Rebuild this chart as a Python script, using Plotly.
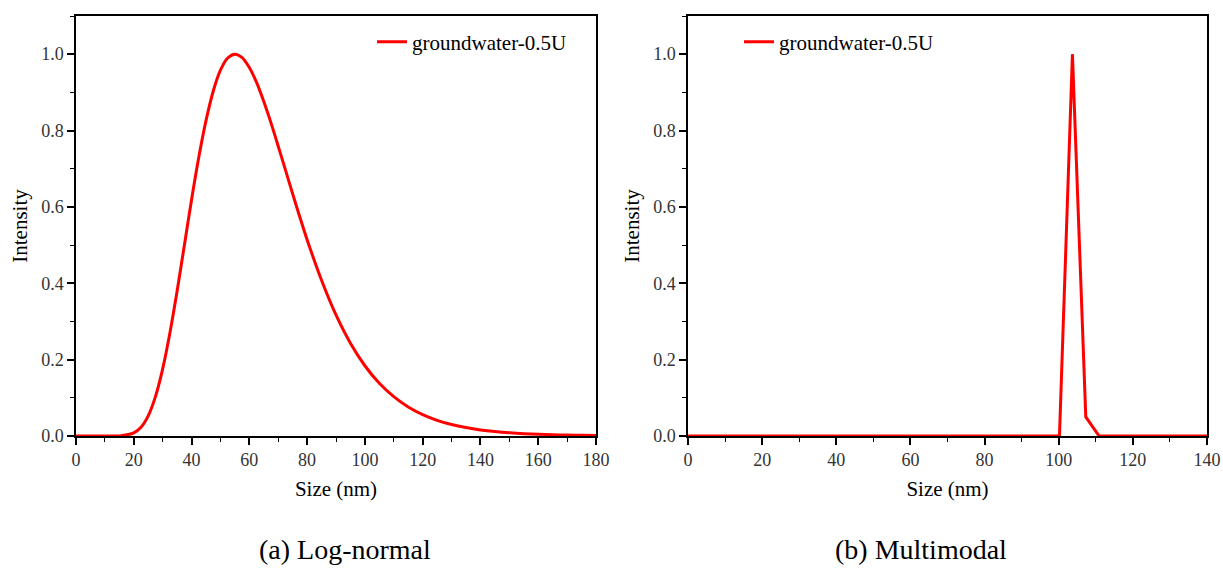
import plotly.graph_objects as go

# ---- data ----
size_a = [0, 5, 10, 15, 20, 22.5, 25, 27.5, 30, 32.5, 35, 37.5, 40, 42.5, 45, 47.5,
          50, 52.5, 55, 57.5, 60, 62.5, 65, 67.5, 70, 72.5, 75, 77.5, 80, 85, 90,
          95, 100, 105, 110, 115, 120, 125, 130, 135, 140, 145, 150, 155, 160, 165,
          170, 175, 180]
intensity_a = [0.0, 0.0, 0.0, 0.0003, 0.0079, 0.0228, 0.0527, 0.103, 0.176, 0.270,
               0.380, 0.499, 0.619, 0.730, 0.826, 0.903, 0.958, 0.990, 1.0, 0.991,
               0.965, 0.926, 0.876, 0.820, 0.759, 0.697, 0.634, 0.573, 0.514, 0.408,
               0.317, 0.243, 0.184, 0.138, 0.103, 0.076, 0.056, 0.041, 0.030, 0.022,
               0.016, 0.0117, 0.0085, 0.0062, 0.0045, 0.0033, 0.0024, 0.0018, 0.0013]

size_b = [0, 20, 40, 60, 80, 100.2, 103.7, 107.3, 110.9, 120, 140]
intensity_b = [0, 0, 0, 0, 0, 0, 1.0, 0.05, 0, 0, 0]

series_name = "groundwater-0.5U"
captions = ["(a) Log-normal", "(b) Multimodal"]
y_ticks = [0.0, 0.2, 0.4, 0.6, 0.8, 1.0]

FONT = "Liberation Serif"
W, H = 1223, 569
ML, MR, MT, MB = 76, 16, 16, 133
PW = W - ML - MR
PH = H - MT - MB

def px(x):
    return (x - ML) / PW

def py(y):
    return (H - MB - y) / PH

fig = go.Figure()
fig.add_trace(go.Scatter(x=size_a, y=intensity_a, mode="lines", name=series_name,
                         line=dict(color="#ff0000", width=3, shape="spline", smoothing=0.8),
                         xaxis="x", yaxis="y", legend="legend", showlegend=True))
fig.add_trace(go.Scatter(x=size_b, y=intensity_b, mode="lines", name=series_name,
                         line=dict(color="#ff0000", width=3),
                         xaxis="x2", yaxis="y2", legend="legend2", showlegend=True))

def xaxis(dom, rng, anchor):
    return dict(domain=dom, range=rng, anchor=anchor, showgrid=False, zeroline=False,
                automargin=False,
                showline=True, linecolor="black", linewidth=1.5, mirror=True,
                ticks="outside", ticklen=7, tickwidth=1.5, tickcolor="black",
                dtick=20, tick0=0,
                minor=dict(ticks="outside", ticklen=4, tickwidth=1.2, dtick=10,
                           tickcolor="black"),
                tickfont=dict(family=FONT, size=18, color="#333"),
                title=dict(text="Size (nm)", font=dict(family=FONT, size=21, color="black"),
                           standoff=12))

def yaxis(anchor):
    return dict(domain=[0, 1], range=[0, 1.1], anchor=anchor, showgrid=False, zeroline=False,
                automargin=False,
                showline=True, linecolor="black", linewidth=1.5, mirror=True,
                ticks="outside", ticklen=7, tickwidth=1.5, tickcolor="black",
                tickvals=y_ticks, tickformat=".1f",
                minor=dict(ticks="outside", ticklen=4, tickwidth=1.2, dtick=0.1,
                           tickcolor="black"),
                tickfont=dict(family=FONT, size=18, color="#333"),
                title=dict(text="Intensity", font=dict(family=FONT, size=21, color="black"),
                           standoff=8))

legend_font = dict(family=FONT, size=21, color="black")

fig.update_layout(
    width=W, height=H,
    margin=dict(l=ML, r=MR, t=MT, b=MB),
    paper_bgcolor="white", plot_bgcolor="white",
    showlegend=True,
    xaxis=xaxis([0, px(596)], [0, 180], "y"),
    yaxis=yaxis("x"),
    xaxis2=xaxis([px(688), 1], [0, 140], "y2"),
    yaxis2=yaxis("x2"),
    legend=dict(x=px(372), y=py(42), xanchor="left", yanchor="middle",
                bgcolor="rgba(0,0,0,0)", font=legend_font),
    legend2=dict(x=px(739), y=py(42), xanchor="left", yanchor="middle",
                 bgcolor="rgba(0,0,0,0)", font=legend_font),
    annotations=[
        dict(text=captions[0], x=px(345), y=py(549), xref="paper", yref="paper",
             xanchor="center", yanchor="middle",
             showarrow=False, font=dict(family=FONT, size=28, color="black")),
        dict(text=captions[1], x=px(921), y=py(549), xref="paper", yref="paper",
             xanchor="center", yanchor="middle",
             showarrow=False, font=dict(family=FONT, size=28, color="black")),
    ],
)

fig.write_html("out.html", config={"displayModeBar": False},
               post_script="document.body.style.margin='0';document.body.style.overflow='hidden';")
